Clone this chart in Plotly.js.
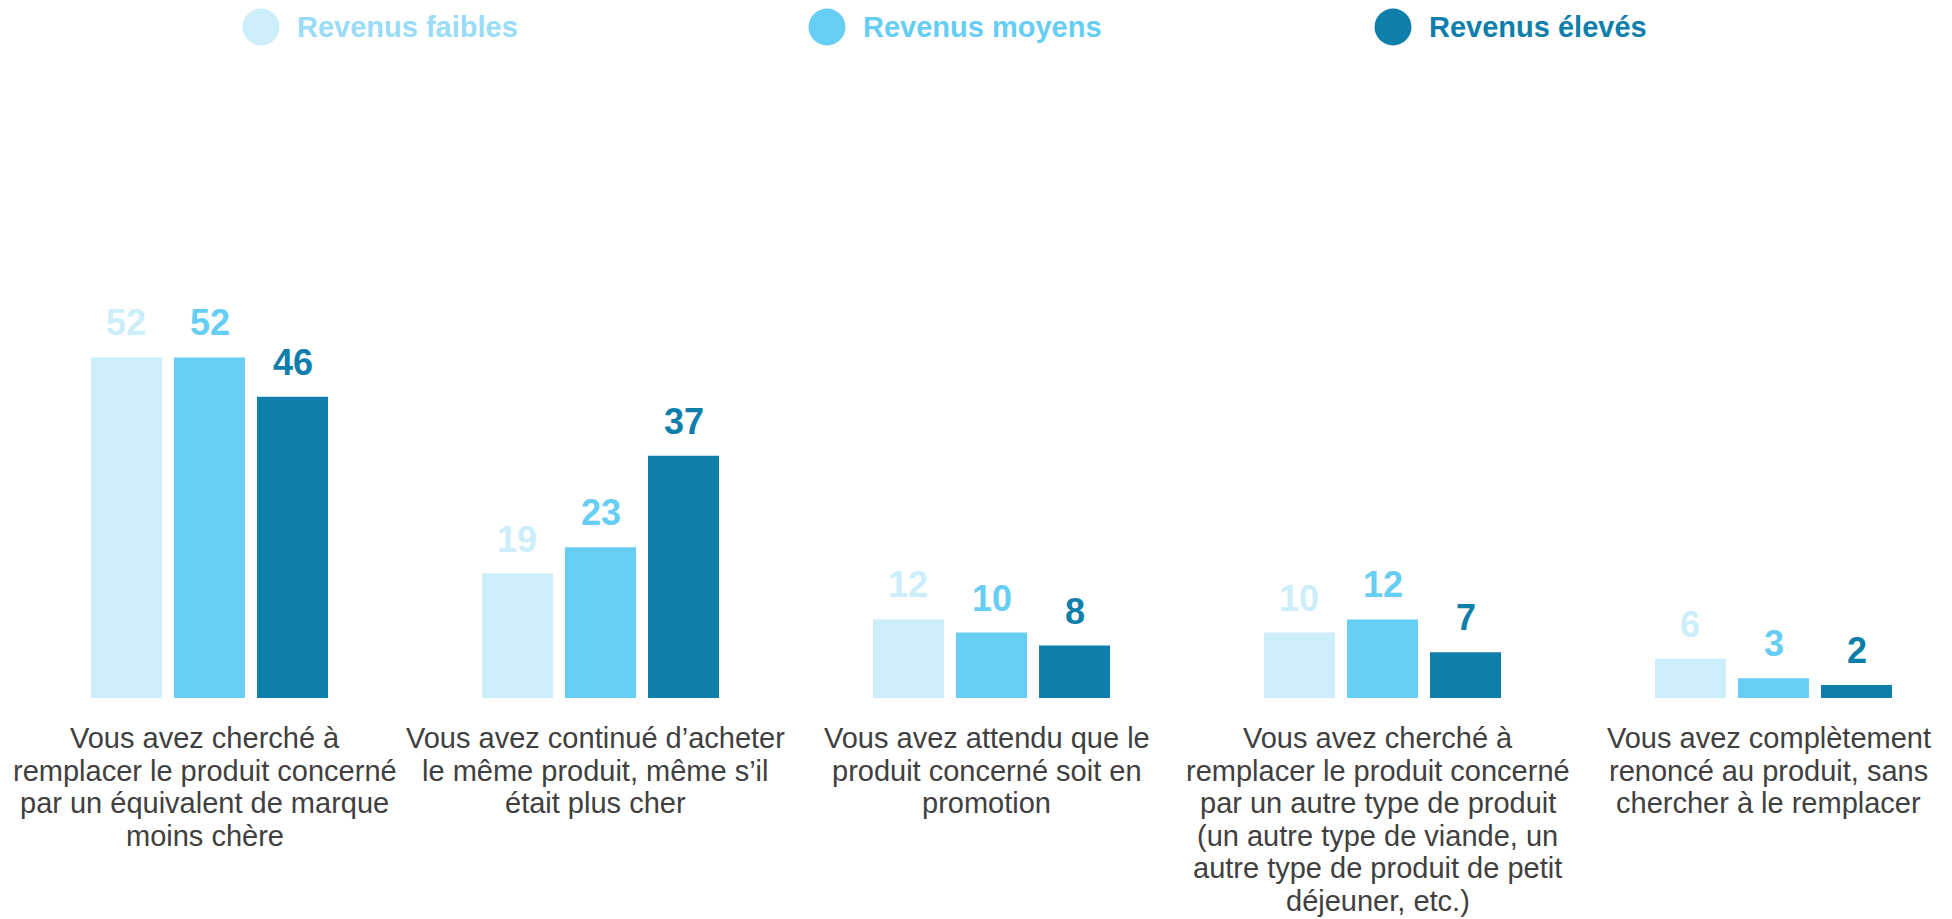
<!DOCTYPE html>
<html>
<head>
<meta charset="utf-8">
<script src="https://cdn.plot.ly/plotly-3.0.1.min.js"></script>
<style>html,body{margin:0;padding:0;background:#fff;}#chart{width:1952px;height:919px;}</style>
</head>
<body>
<div id="chart"></div>
<script>
// ---- data ----
var categories = [
  "Vous avez cherché à<br>remplacer le produit concerné<br>par un équivalent de marque<br>moins chère",
  "Vous avez continué d’acheter<br>le même produit, même s’il<br>était plus cher",
  "Vous avez attendu que le<br>produit concerné soit en<br>promotion",
  "Vous avez cherché à<br>remplacer le produit concerné<br>par un autre type de produit<br>(un autre type de viande, un<br>autre type de produit de petit<br>déjeuner, etc.)",
  "Vous avez complètement<br>renoncé au produit, sans<br>chercher à le remplacer"
];
var seriesNames = ["Revenus faibles", "Revenus moyens", "Revenus élevés"];
var revenusFaibles = [52, 19, 12, 10, 6];
var revenusMoyens  = [52, 23, 10, 12, 3];
var revenusEleves  = [46, 37, 8, 7, 2];

// ---- styles ----
var barColors   = ["#CCEEFA", "#66CEF5", "#0E7EAB"];
var legendTextColors = ["#99DCF7", "#66CEF5", "#0E7EAB"];
var FONT = "Liberation Sans, Arial, Helvetica, sans-serif";

var W = 1952, H = 919;
var M = {l: 14, r: 0, t: 80, b: 221};
var plotW = W - M.l - M.r, plotH = H - M.t - M.b;
var catPx = 391;                 // pixel width per category
var pxPerUnit = 6.55;
var bargap = 0.363, bargroupgap = 0.145;
var xRange = [-0.5, -0.5 + plotW / catPx];
var yRange = [0, plotH / pxPerUnit];

var series = [revenusFaibles, revenusMoyens, revenusEleves];
var idx = categories.map(function (_, i) { return i; });

var traces = series.map(function (vals, j) {
  return {
    type: "bar",
    name: seriesNames[j],
    x: idx,
    y: vals,
    marker: {color: barColors[j], line: {width: 0}},
    showlegend: false,
    hoverinfo: "skip"
  };
});

var annotations = [];
var slot = (1 - bargap) / series.length;
// value labels
series.forEach(function (vals, j) {
  vals.forEach(function (v, i) {
    annotations.push({
      xref: "x", yref: "y",
      x: i + (j - (series.length - 1) / 2) * slot,
      y: v,
      yanchor: "bottom", xanchor: "center",
      yshift: 12,
      showarrow: false,
      text: "<b>" + v + "</b>",
      font: {family: FONT, size: 36, color: barColors[j]}
    });
  });
});
// category labels (one annotation per line for tight line spacing)
categories.forEach(function (cat, i) {
  cat.split("<br>").forEach(function (line, k) {
    annotations.push({
      xref: "x", yref: "y",
      x: i - 0.012, y: 0,
      yanchor: "top", xanchor: "center",
      yshift: -22 - k * 32.5,
      showarrow: false,
      text: line,
      font: {family: FONT, size: 29, color: "#404040"}
    });
  });
});

// custom legend
function pxX(p) { return (p - M.l) / plotW; }
function pxY(p) { return (H - M.b - p) / plotH; }
var shapes = [];
var legCx = [261, 827, 1393], legCy = 27, legR = 18.5;
seriesNames.forEach(function (name, j) {
  shapes.push({
    type: "circle", xref: "paper", yref: "paper",
    x0: pxX(legCx[j] - legR), x1: pxX(legCx[j] + legR),
    y0: pxY(legCy + legR), y1: pxY(legCy - legR),
    fillcolor: barColors[j], line: {width: 0}
  });
  annotations.push({
    xref: "paper", yref: "paper",
    x: pxX(legCx[j] + 34), y: pxY(legCy),
    xanchor: "left", yanchor: "middle",
    showarrow: false,
    text: "<b>" + name + "</b>",
    font: {family: FONT, size: 29, color: legendTextColors[j]}
  });
});

var layout = {
  width: W, height: H,
  margin: M,
  paper_bgcolor: "#ffffff", plot_bgcolor: "#ffffff",
  barmode: "group",
  bargap: bargap, bargroupgap: bargroupgap,
  showlegend: false,
  xaxis: {range: xRange, showticklabels: false, showgrid: false, zeroline: false, showline: false, ticks: "", fixedrange: true},
  yaxis: {range: yRange, showticklabels: false, showgrid: false, zeroline: false, showline: false, ticks: "", fixedrange: true},
  annotations: annotations,
  shapes: shapes,
  font: {family: FONT}
};

Plotly.newPlot("chart", traces, layout, {displayModeBar: false, staticPlot: true});
</script>
</body>
</html>
